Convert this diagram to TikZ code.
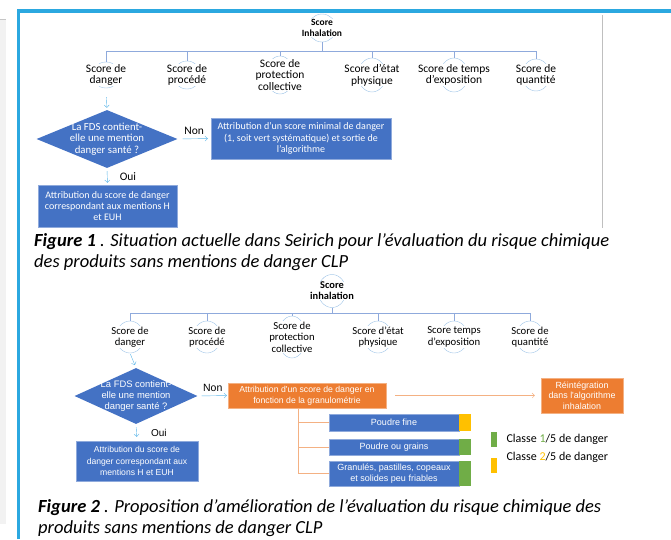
\documentclass[tikz,border=0pt]{standalone}
\usepackage{fontspec}
\setmainfont{Carlito}
\newfontfamily\arialf{Liberation Sans}
\usepackage{xcolor}
\usepackage{tikz}
\usetikzlibrary{arrows.meta,shapes.geometric}
\definecolor{boxblue}{HTML}{4472C4}
\definecolor{boxorange}{HTML}{ED7D31}
\definecolor{lineblue}{HTML}{8FAADC}
\definecolor{ringblue}{HTML}{9DC3E6}
\definecolor{arrowblue}{HTML}{5BB5E8}
\definecolor{salmon}{HTML}{F4B183}
\definecolor{clgreen}{HTML}{70AD47}
\definecolor{clyellow}{HTML}{FFC000}
\definecolor{framecyan}{HTML}{2BA8E0}
\definecolor{panelgrey}{HTML}{F2F2F2}
\tikzset{
  ring/.style={ellipse,draw=ringblue,thin,inner sep=0,minimum width=28},
  lbl/.style={fill=white,inner sep=0.5pt,align=center},
  bus/.style={draw=lineblue,line width=0.8pt},
  bbox/.style={rectangle,fill=boxblue,draw=boxblue!60!white,text=white,align=center,inner sep=1pt},
  obox/.style={rectangle,fill=boxorange,draw=boxorange!60!white,text=white,align=center,inner sep=1pt},
  dia/.style={diamond,fill=boxblue,inner sep=0},
  tag/.style={rectangle,minimum width=12,inner sep=0,anchor=west},
  arr/.style={-{Straight Barb[length=2.5pt,width=5pt]},draw=arrowblue,thin},
  oline/.style={draw=salmon,thin},
  figcap/.style={anchor=base west,inner sep=0,font=\fontsize{18.5}{21}\selectfont\itshape}
}
\begin{document}
\begin{tikzpicture}[x=1pt,y=-1pt]
\useasboundingbox (0,0) rectangle (671,539);
% page frame
\fill[panelgrey] (0,19) rectangle (6,524);
\draw[gray!45] (0,19)--(6,19);
\draw[framecyan,line width=3.5] (18.5,539)--(18.5,11)--(671,11);
\draw[gray!50,line width=1] (602,15)--(602,228);

% figure 1
\node[ring,minimum height=28] (f1in) at (322,28) {};
\node[lbl,font=\bfseries\fontsize{9.5}{11}\selectfont] at (f1in) {Score\\Inhalation};
\coordinate (f1bus) at (0,51);
\foreach \n/\x/\h/\txt in {da/106/26/{Score de\\danger},pr/187/28/{Score de\\procédé},pc/280/38/{Score de\\protection\\collective},
  et/372/34/{Score d’état\\physique},te/454/34/{Score de temps\\d’exposition},qu/536/32/{Score de\\quantité}}{
  \node[ring,minimum height=\h] (f1\n) at (\x,75) {};
  \node[lbl,font=\fontsize{11.5}{11.8}\selectfont] at (f1\n) {\txt};
  \draw[bus] (f1\n.north |- f1bus)--(f1\n.north);}
\draw[bus] (f1in.south)--(f1in.south |- f1bus);
\draw[bus] (f1da.north |- f1bus)--(f1qu.north |- f1bus);
\node[dia,minimum width=141,minimum height=58] (f1q) at (107,139) {};
\node[text=white,align=center,font=\fontsize{10.8}{11.2}\selectfont] at (f1q) {La FDS contient-\\elle une mention\\danger santé ?};
\node[bbox,minimum width=180,minimum height=41,font=\fontsize{10}{11.4}\selectfont] (f1m) at (301,138.5)
  {Attribution d’un score minimal de danger\\(1, soit vert systématique) et sortie de\\l’algorithme};
\node[bbox,minimum width=139,minimum height=42,font=\fontsize{10}{11.4}\selectfont] (f1b) at (107.5,206)
  {Attribution du score de danger\\correspondant aux mentions H\\et EUH};
\draw[arr,shorten <=9pt,shorten >=2pt] (f1da.south)--(f1q.north);
\draw[arr,shorten <=5pt,shorten >=3pt] (f1q.east)--(f1m.west) node[midway,above=1pt,text=black,font=\fontsize{11.5}{12}\selectfont]{Non};
\draw[arr,shorten <=3pt,shorten >=2pt] (f1q.south)--(f1b.north) node[midway,right=9pt,text=black,font=\fontsize{11.5}{12}\selectfont]{Oui};
\node[figcap] (cap1a) at (34,246) {\textbf{Figure 1} . Situation actuelle dans Seirich pour l'évaluation du risque chimique};
\node[figcap] (cap1b) at (34,267) {des produits sans mentions de danger CLP};

% figure 2
\node[ring,minimum height=33] (f2in) at (332,291) {};
\node[lbl,font=\bfseries\fontsize{10.4}{11}\selectfont] at (f2in) {Score\\inhalation};
\coordinate (f2bus) at (0,313);
\foreach \n/\x/\h/\txt in {da/130/32/{Score de\\danger},pr/207/32/{Score de\\procédé},pc/292/42/{Score de\\protection\\collective},
  et/378/32/{Score d'état\\physique},te/454/32/{Score temps\\d'exposition},qu/530/32/{Score de\\quantité}}{
  \node[ring,minimum height=\h] (f2\n) at (\x,337) {};
  \node[lbl,font=\fontsize{10.7}{11.5}\selectfont] at (f2\n) {\txt};
  \draw[bus] (f2\n.north |- f2bus)--(f2\n.north);}
\draw[bus] (f2in.south)--(f2in.south |- f2bus);
\draw[bus] (f2da.north |- f2bus)--(f2qu.north |- f2bus);
\node[dia,minimum width=123,minimum height=56] (f2q) at (136,396) {};
\node[text=white,align=center,font=\arialf\fontsize{9.4}{11.2}\selectfont] at (f2q) {La FDS contient-\\elle une mention\\danger santé ?};
\node[obox,minimum width=158,minimum height=25,font=\arialf\fontsize{8.7}{10.5}\selectfont] (f2a) at (307,395.5)
  {Attribution d'un score de danger en\\fonction de la granulométrie};
\node[obox,minimum width=82,minimum height=35,font=\arialf\fontsize{8.9}{10.5}\selectfont] (f2r) at (582,395.5)
  {Réintégration\\dans l'algorithme\\inhalation};
\node[bbox,minimum width=122,minimum height=40,font=\arialf\fontsize{8.6}{11.2}\selectfont] (f2b) at (137,461)
  {Attribution du score de\\danger correspondant aux\\mentions H et EUH};
\draw[arr,shorten <=1pt,shorten >=3pt] (f2da.south)--(f2q.north);
\draw[arr,shorten <=4pt,shorten >=1pt] (f2q.east)--(f2a.west) node[midway,above=1pt,text=black,font=\arialf\fontsize{10.5}{11}\selectfont]{Non};
\draw[arr,shorten <=3pt,shorten >=4pt] (f2q.south)--(f2b.north) node[midway,right=11pt,text=black,font=\arialf\fontsize{10}{11}\selectfont]{Oui};
\draw[oline,-{Straight Barb[length=2.5pt,width=5pt]},shorten <=9pt,shorten >=6pt] (f2a.east)--(f2r.west);
% granulometry classes
\foreach \n/\y/\h/\c/\txt in {pf/422.5/17/clyellow/{Poudre fine},pg/447/16/clgreen/{Poudre ou grains},
  gr/473.5/25/clgreen/{Granulés, pastilles, copeaux\\et solides peu friables}}{
  \node[bbox,minimum width=130,minimum height=\h,font=\arialf\fontsize{9}{10.5}\selectfont] (\n) at (394,\y) {\txt};
  \node[tag,fill=\c,minimum height=\h] (\n t) at (\n.east) {};
  \draw[oline] ([xshift=-9pt]f2a.south) |- (\n.west);}
\node[tag,fill=clgreen,minimum width=6,minimum height=15] (leg1) at (491,439.5) {};
\node[tag,fill=clyellow,minimum width=6,minimum height=15] (leg2) at (491,465.5) {};
\node[anchor=west,font=\fontsize{12}{13}\selectfont] at (503,439) {Classe \textcolor{clgreen}{1}/5 de danger};
\node[anchor=west,font=\fontsize{12}{13}\selectfont] at (503,457) {Classe \textcolor{clyellow}{2}/5 de danger};
\node[figcap] (cap2a) at (38,512) {\textbf{Figure 2} . Proposition d'amélioration de l'évaluation du risque chimique des};
\node[figcap] (cap2b) at (38,533) {produits sans mentions de danger CLP};
\end{tikzpicture}
\end{document}
